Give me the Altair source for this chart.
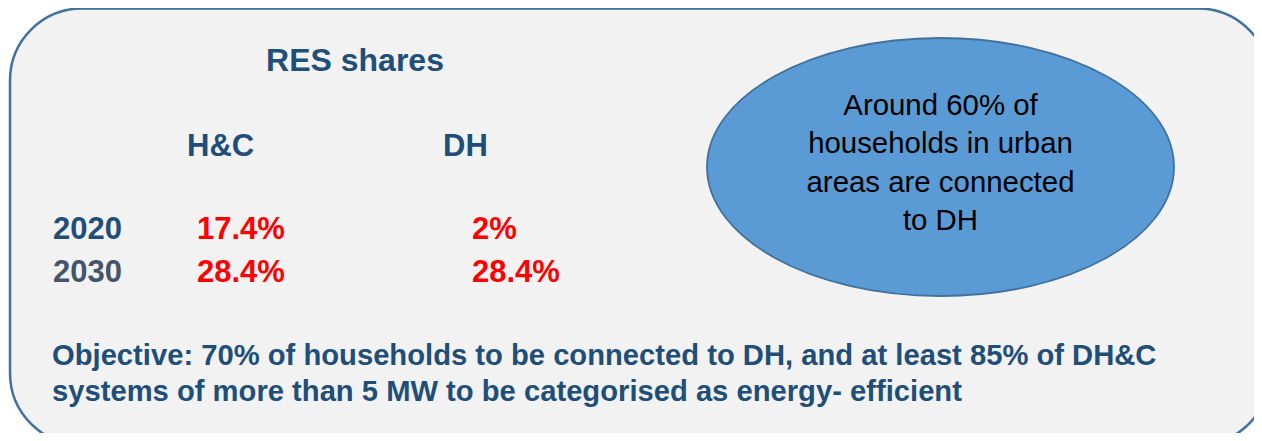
import altair as alt
import pandas as pd

# ---------------- data ----------------
title_text = "RES shares"
column_headers = ["H&C", "DH"]
years = ["2020", "2030"]
hc_share = [17.4, 28.4]
dh_share = [2, 28.4]
bubble_lines = ["Around 60% of", "households in urban", "areas are connected", "to DH"]
objective_lines = [
    "Objective: 70% of households to be connected to DH, and at least 85% of DH&C",
    "systems of more than 5 MW to be categorised as energy- efficient",
]

# ---------------- layout / style ----------------
W, H = 1246, 425
FONT = "Liberation Sans"
DARK = "#1F4E79"
YEAR_COLORS = ["#1F4E79", "#44546A"]
RED = "#FF0000"
EDGE = "#41719C"

frame = {"x": 2, "x2": 1262, "y": 0.5, "y2": 437, "r": 72}
title_pos = (347, 63)
header_x = [179, 435]
header_y = 148
year_x = 45
row_y = [231, 274]
value_x = [189, 464]
bubble_c = (932.5, 159)
bubble_rx, bubble_ry = 233.5, 129
bubble_text_y = [107, 145, 184, 222]
obj_x = 44
obj_y = [357, 393]

xs = alt.Scale(domain=[0, W], nice=False, zero=False)
ys = alt.Scale(domain=[0, H], nice=False, zero=False, reverse=True)


def X(f="px"):
    return alt.X(f"{f}:Q", scale=xs, axis=None)


def Y(f="py"):
    return alt.Y(f"{f}:Q", scale=ys, axis=None)


# rounded frame
frame_df = pd.DataFrame([{"px": frame["x"], "px2": frame["x2"], "py": frame["y"], "py2": frame["y2"]}])
frame_layer = alt.Chart(frame_df).mark_rect(
    cornerRadius=frame["r"], fill="#F2F2F2", stroke=EDGE, strokeWidth=2.5, clip=True
).encode(x=X(), x2="px2:Q", y=Y(), y2="py2:Q")

# ellipse bubble
k = bubble_ry / bubble_rx
ell_path = f"M -1 0 A 1 {k:.4f} 0 1 1 1 0 A 1 {k:.4f} 0 1 1 -1 0 Z"
bubble_df = pd.DataFrame([{"px": bubble_c[0], "py": bubble_c[1]}])
bubble_layer = alt.Chart(bubble_df).mark_point(
    shape=ell_path, size=(2 * bubble_rx) ** 2, filled=True, fill="#5B9BD5",
    fillOpacity=1, opacity=1, stroke=EDGE, strokeWidth=1.8
).encode(x=X(), y=Y())

bubble_text_df = pd.DataFrame({"t": bubble_lines, "px": [bubble_c[0]] * len(bubble_lines), "py": bubble_text_y})
bubble_text = alt.Chart(bubble_text_df).mark_text(
    font=FONT, fontSize=29.4, color="#000000", align="center", baseline="alphabetic"
).encode(x=X(), y=Y(), text="t:N")

# title
title_df = pd.DataFrame([{"t": title_text, "px": title_pos[0], "py": title_pos[1]}])
title_layer = alt.Chart(title_df).mark_text(
    font=FONT, fontSize=32, fontWeight="bold", color=DARK, align="center", baseline="alphabetic"
).encode(x=X(), y=Y(), text="t:N")

# column headers
hdr_df = pd.DataFrame({"t": column_headers, "px": header_x, "py": [header_y] * 2})
hdr_layer = alt.Chart(hdr_df).mark_text(
    font=FONT, fontSize=31, fontWeight="bold", color=DARK, align="left", baseline="alphabetic"
).encode(x=X(), y=Y(), text="t:N")

# year labels
yr_df = pd.DataFrame({"year": years, "px": [year_x] * 2, "py": row_y})
yr_layer = alt.Chart(yr_df).mark_text(
    font=FONT, fontSize=31, fontWeight="bold", align="left", baseline="alphabetic"
).encode(
    x=X(), y=Y(), text="year:N",
    color=alt.Color("year:N", scale=alt.Scale(domain=years, range=YEAR_COLORS), legend=None),
)

# share values
rows = []
for i, yr in enumerate(years):
    rows.append({"year": yr, "col": column_headers[0], "value": hc_share[i], "px": value_x[0], "py": row_y[i]})
    rows.append({"year": yr, "col": column_headers[1], "value": dh_share[i], "px": value_x[1], "py": row_y[i]})
val_df = pd.DataFrame(rows)
val_layer = alt.Chart(val_df).transform_calculate(
    label="format(datum.value, '.1~f') + '%'"
).mark_text(
    font=FONT, fontSize=31, fontWeight="bold", color=RED, align="left", baseline="alphabetic"
).encode(x=X(), y=Y(), text="label:N")

# objective
obj_df = pd.DataFrame({"t": objective_lines, "px": [obj_x] * 2, "py": obj_y})
obj_layer = alt.Chart(obj_df).mark_text(
    font=FONT, fontSize=29.2, fontWeight="bold", color=DARK, align="left", baseline="alphabetic"
).encode(x=X(), y=Y(), text="t:N")

chart = alt.layer(
    frame_layer, bubble_layer, bubble_text, title_layer, hdr_layer, yr_layer, val_layer, obj_layer
).properties(
    width=W, height=H, padding=0, autosize="none", background="white"
).configure_view(stroke=None)

chart.save("out.html", embed_options={"renderer": "svg", "actions": False})
